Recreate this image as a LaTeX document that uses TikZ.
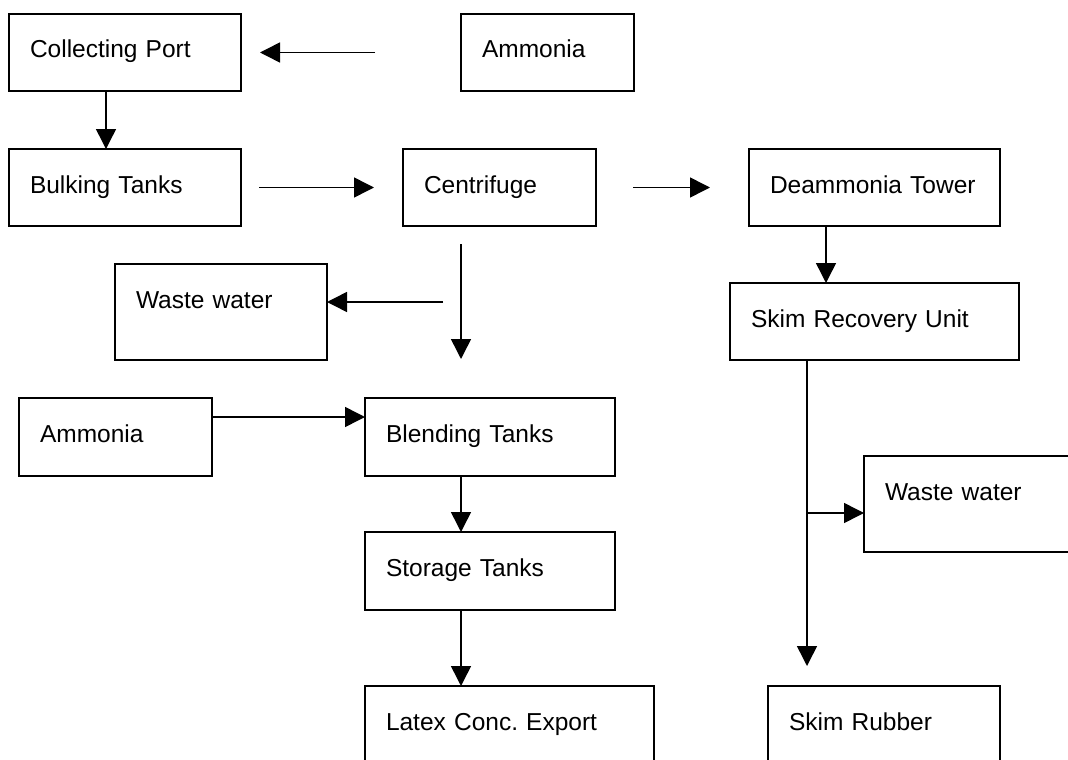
\documentclass[tikz,border=0pt]{standalone}
\usepackage{fontspec}
\setmainfont{Liberation Sans}
\usetikzlibrary{arrows.meta}
\frenchspacing

\tikzset{every picture/.style={line width=1.5pt}}
\tikzset{
	unit/.style={draw, anchor=north west, outer sep=0pt, inner xsep=21pt, inner ysep=0pt, text height=44pt, align=left, font=\fontsize{24.5}{28}\selectfont},
	flow/.style={-{Triangle[length=20pt,width=20pt]}}
}

\begin{document}
\begin{tikzpicture}[x=1pt,y=1pt,yscale=-1,xscale=1]
	\useasboundingbox (0,0) rectangle (1068,760);

	% Boxes
	\node[unit, text width=190pt, text depth=33pt] (collect) at (9,14) {Collecting Port};
	\node[unit, text width=131pt, text depth=33pt] (ammoniaA) at (461,14) {Ammonia};
	\node[unit, text width=190pt, text depth=33pt] (bulk) at (9,149) {Bulking Tanks};
	\node[unit, text width=151pt, text depth=33pt] (centri) at (403,149) {Centrifuge};
	\node[unit, text width=209pt, text depth=33pt] (deammo) at (749,149) {Deammonia Tower};
	\node[unit, text width=170pt, text depth=52pt] (wasteA) at (115,264) {Waste water};
	\node[unit, text width=247pt, text depth=33pt] (skim) at (730,283) {Skim Recovery Unit};
	\node[unit, text width=151pt, text depth=34pt] (ammoniaB) at (19,398) {Ammonia};
	\node[unit, text width=208pt, text depth=34pt] (blend) at (365,398) {Blending Tanks};
	\node[unit, text width=188pt, text depth=52pt] (wasteB) at (864,456) {Waste water};
	\node[unit, text width=208pt, text depth=34pt] (store) at (365,532) {Storage Tanks};
	\node[unit, text width=247pt, text depth=56pt] (latex) at (365,686) {Latex Conc. Export};
	\node[unit, text width=190pt, text depth=56pt] (rubber) at (768,686) {Skim Rubber};

	% Guide points
	\coordinate (colx) at (106,0);
	\coordinate (midx) at (461,0);
	\coordinate (towx) at (826,0);
	\coordinate (skimx) at (807,0);
	\coordinate (feedy) at (0,417);
	\coordinate (wtap) at (443,302);
	\coordinate (branch) at (807,513);

	% Arrows
	\draw[flow, shorten <=86pt, shorten >=19pt] (ammoniaA.west) -- (collect.east);
	\draw[flow] (collect.south -| colx) -- (bulk.north -| colx);
	\draw[flow, shorten <=18pt, shorten >=29pt] (bulk.east) -- (centri.west);
	\draw[flow, shorten <=37pt, shorten >=39pt] (centri.east) -- (deammo.west);
	\draw[flow] (deammo.south -| towx) -- (skim.north -| towx);
	\draw[flow, shorten <=18pt, shorten >=39pt] (centri.south -| midx) -- (blend.north -| midx);
	\draw[flow] (wtap) -- (wtap -| wasteA.east);
	\draw[flow] (ammoniaB.east |- feedy) -- (blend.west |- feedy);
	\draw[flow] (blend.south -| midx) -- (store.north -| midx);
	\draw[flow] (store.south -| midx) -- (latex.north -| midx);
	\draw[flow, shorten >=20pt] (skim.south -| skimx) -- (rubber.north -| skimx);
	\draw[flow] (branch) -- (branch -| wasteB.west);

\end{tikzpicture}
\end{document}
